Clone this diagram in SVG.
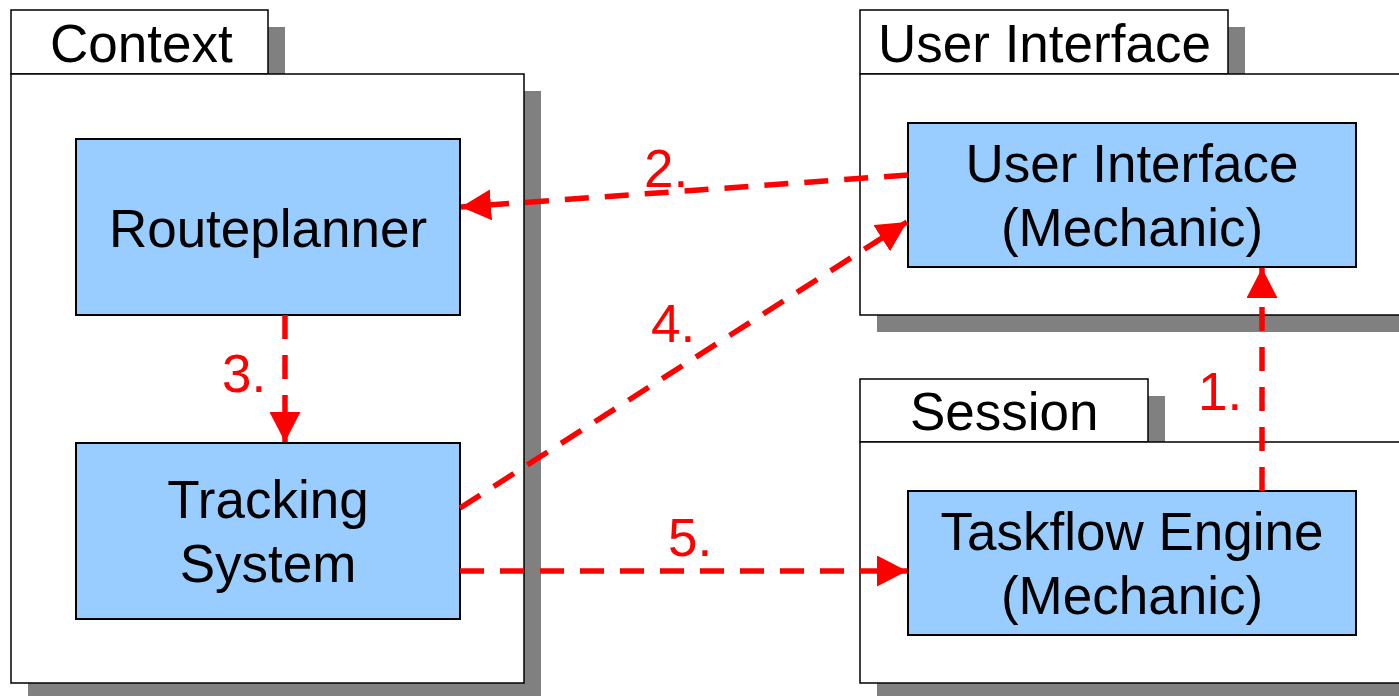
<svg xmlns="http://www.w3.org/2000/svg" width="1399" height="696" viewBox="0 0 1399 696">
<style>
.shadow{fill:#808080;stroke:none}
.pkg{fill:#fff;stroke:#000;stroke-width:1.5}
.node{fill:#99ccff;stroke:#000;stroke-width:2}
.t{font-family:"Liberation Sans",Arial,sans-serif;font-size:53px;fill:#000}
.c{text-anchor:middle}
.lbl{font-family:"Liberation Sans",Arial,sans-serif;font-size:53px;fill:#ff0000}
.conn{fill:none;stroke:#ff0000;stroke-width:5.5;stroke-dasharray:24,16}
</style>
<defs>
<marker id="ah" viewBox="0 0 30 31" refX="30" refY="15.5" markerWidth="30" markerHeight="31" markerUnits="userSpaceOnUse" orient="auto">
<path d="M0,0 L30,15.5 L0,31 Z" fill="#ff0000"/>
</marker>
</defs>
<rect width="1399" height="696" fill="#fff"/>
<g id="pkg-context">
<rect class="shadow" x="268" y="27" width="17" height="47"/>
<rect class="shadow" x="28" y="91" width="513" height="605"/>
<rect class="pkg" x="11" y="10" width="257" height="64"/>
<rect class="pkg" x="11" y="74" width="513" height="609"/>
<text class="t" x="50" y="62">Context</text>
</g>
<g id="pkg-ui">
<rect class="shadow" x="1228" y="27" width="17" height="47"/>
<rect class="shadow" x="877" y="91" width="540" height="241"/>
<rect class="pkg" x="860" y="10" width="368" height="64"/>
<rect class="pkg" x="860" y="74" width="560" height="241"/>
<text class="t" x="878" y="62">User Interface</text>
</g>
<g id="pkg-session">
<rect class="shadow" x="1148" y="396" width="17" height="46"/>
<rect class="shadow" x="877" y="459" width="540" height="237"/>
<rect class="pkg" x="860" y="379" width="288" height="63"/>
<rect class="pkg" x="860" y="442" width="560" height="241"/>
<text class="t" x="910" y="430">Session</text>
</g>
<g id="node-routeplanner">
<rect class="node" x="76" y="139" width="384" height="176"/>
<text class="t c" x="268" y="247">Routeplanner</text>
</g>
<g id="node-tracking">
<rect class="node" x="76" y="443" width="384" height="176"/>
<text class="t c" x="268" y="518">Tracking</text>
<text class="t c" x="268" y="582">System</text>
</g>
<g id="node-ui-mechanic">
<rect class="node" x="908" y="123" width="448" height="144"/>
<text class="t c" x="1132" y="182">User Interface</text>
<text class="t c" x="1132" y="246">(Mechanic)</text>
</g>
<g id="node-taskflow">
<rect class="node" x="908" y="491" width="448" height="144"/>
<text class="t c" x="1132" y="550">Taskflow Engine</text>
<text class="t c" x="1132" y="614">(Mechanic)</text>
</g>
<g id="connectors">
<path class="conn" d="M1262,491 L1262,268" marker-end="url(#ah)"/>
<path class="conn" d="M908,175 L461,207" marker-end="url(#ah)"/>
<path class="conn" d="M285,315 L285,442" marker-end="url(#ah)"/>
<path class="conn" d="M460,508 L907,222" marker-end="url(#ah)"/>
<path class="conn" d="M460,571 L907,571" marker-end="url(#ah)"/>
<text class="lbl" x="1198" y="410">1.</text>
<text class="lbl" x="644" y="187">2.</text>
<text class="lbl" x="222" y="392">3.</text>
<text class="lbl" x="651" y="342">4.</text>
<text class="lbl" x="668" y="556">5.</text>
</g>
</svg>
